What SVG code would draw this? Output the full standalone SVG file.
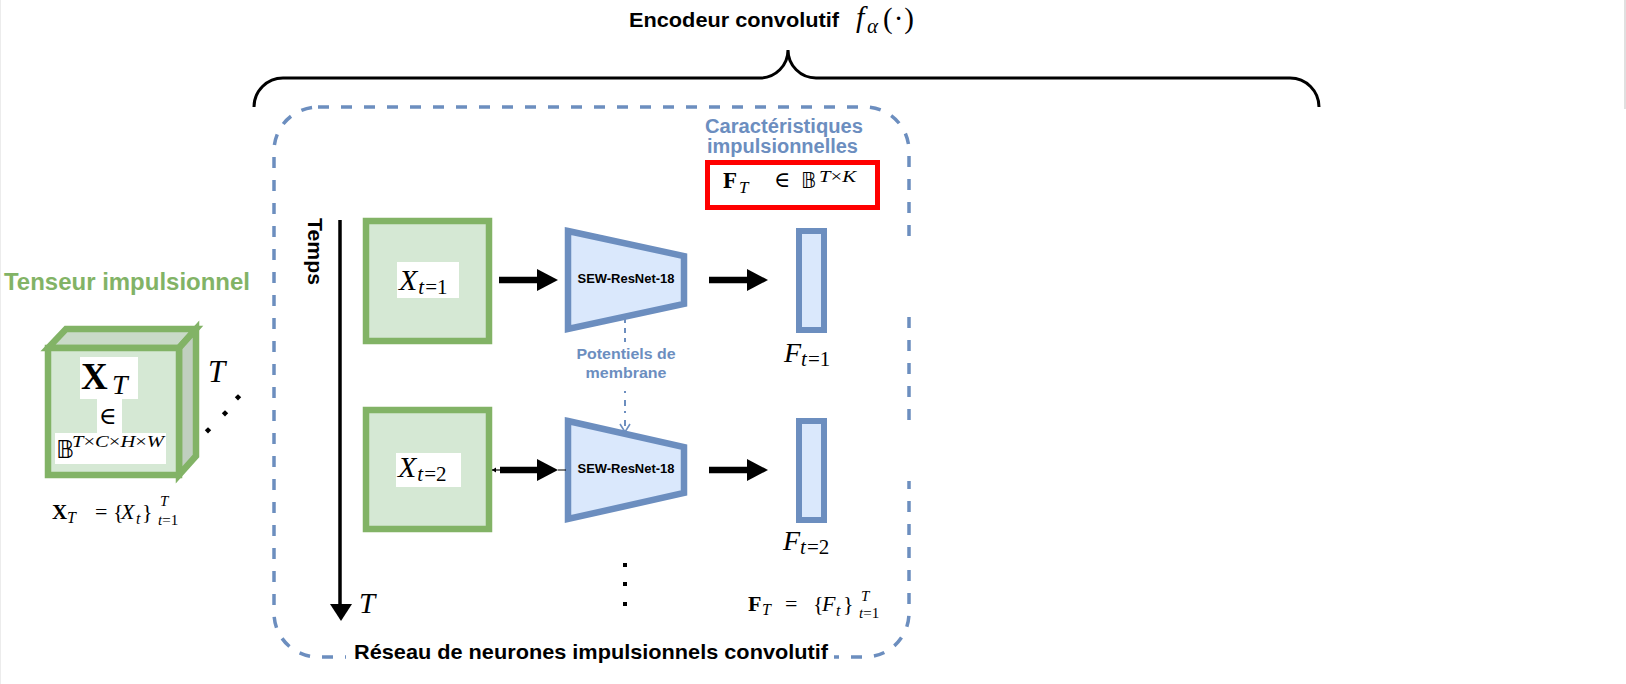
<svg xmlns="http://www.w3.org/2000/svg" width="1626" height="684" viewBox="0 0 1626 684">
<style>
.sans{font-family:"Liberation Sans",Arial,sans-serif;font-weight:bold}
.m{font-family:"Liberation Serif","DejaVu Serif",serif}
.i{font-style:italic}
.b{font-weight:bold}
.bb{font-family:"DejaVu Sans","DejaVu Serif","Noto Sans",sans-serif}
.blue{fill:#6c8ebf}
.green{fill:#82b366}
.gbox{fill:#d5e8d4;stroke:#82b366;stroke-width:6.5}
.trap{fill:#dae8fc;stroke:#6c8ebf;stroke-width:6.5;stroke-linejoin:miter}
.fbox{fill:#dae8fc;stroke:#6c8ebf;stroke-width:6}
.wb{fill:#ffffff}
.shaft{stroke:#000;stroke-width:6.5}
</style>
<rect x="0" y="0" width="1626" height="684" fill="#ffffff"/>
<line x1="0.5" y1="0" x2="0.5" y2="684" stroke="#ececec" stroke-width="1"/>
<line x1="1625" y1="0" x2="1625" y2="109" stroke="#d6d6d6" stroke-width="1.5"/>

<!-- Brace and title -->
<g id="encoder">
<path d="M254,107 A29,29 0 0 1 283,78 L760,78 A28,28 0 0 0 788,50 A28,28 0 0 0 816,78 L1290,78 A29,29 0 0 1 1319,107" fill="none" stroke="#000" stroke-width="3"/>
<text class="sans" x="629" y="27" font-size="21" textLength="210" lengthAdjust="spacingAndGlyphs">Encodeur convolutif</text>
<text class="m i" x="856" y="27" font-size="30">f</text>
<text class="m i" x="867" y="33" font-size="21">α</text>
<text class="m" x="883" y="28" font-size="29"><tspan>(</tspan><tspan dx="1">·</tspan><tspan dx="1">)</tspan></text>
</g>

<!-- SNN container -->
<g id="snn">
<rect x="274" y="107" width="635" height="550" rx="44" ry="44" fill="none" stroke="#6c8ebf" stroke-width="3.5" stroke-dasharray="11 12"/>
<rect x="903" y="237" width="12" height="69" fill="#fff"/>
<rect x="903" y="431" width="12" height="50" fill="#fff"/>
<rect x="346" y="640" width="488" height="30" fill="#fff"/>
<text class="sans" x="354" y="659" font-size="21" textLength="474" lengthAdjust="spacingAndGlyphs">Réseau de neurones impulsionnels convolutif</text>
</g>

<!-- Spiking tensor cube -->
<g id="tensor">
<text class="sans green" x="4" y="290" font-size="24" textLength="246" lengthAdjust="spacingAndGlyphs">Tenseur impulsionnel</text>
<polygon points="48,348 66,329 196,329 179,348" fill="#c9dac8" stroke="#82b366" stroke-width="6.5" stroke-linejoin="miter"/>
<polygon points="179,348 196,329 196,456 179,475" fill="#c0cfbf" stroke="#82b366" stroke-width="6.5" stroke-linejoin="miter"/>
<rect x="48" y="348" width="131" height="127" class="gbox"/>
<rect x="80" y="357" width="58" height="42" class="wb"/>
<rect x="97" y="398" width="25" height="36" class="wb"/>
<rect x="55" y="433" width="111" height="31" class="wb"/>
<text class="m b" x="81" y="389" font-size="37">X</text>
<text class="m i" x="112" y="394" font-size="28">T</text>
<text class="m" x="99" y="424" font-size="24">∈</text>
<text class="bb" x="56" y="458" font-size="25">𝔹</text>
<text class="m" x="72" y="447" font-size="17" textLength="92" lengthAdjust="spacingAndGlyphs"><tspan class="i">T</tspan>×<tspan class="i">C</tspan>×<tspan class="i">H</tspan>×<tspan class="i">W</tspan></text>
<text class="m i" x="208" y="382" font-size="31">T</text>
<rect x="236" y="395" width="4.5" height="4.5" transform="rotate(45 238 397)" fill="#000"/>
<rect x="223" y="411" width="4.5" height="4.5" transform="rotate(45 225 413)" fill="#000"/>
<rect x="206" y="428" width="4.5" height="4.5" transform="rotate(45 208 430)" fill="#000"/>
<text class="m b" x="52" y="519" font-size="21">X</text>
<text class="m i" x="67" y="523" font-size="16">T</text>
<text class="m" x="95" y="519" font-size="22">=</text>
<text class="m" x="113" y="519" font-size="22">{</text>
<text class="m i" x="121" y="519" font-size="22">X</text>
<text class="m i" x="136" y="524" font-size="16">t</text>
<text class="m" x="142" y="519" font-size="22">}</text>
<text class="m i" x="160" y="506" font-size="15">T</text>
<text class="m" x="158" y="525" font-size="15"><tspan class="i">t</tspan>=1</text>
</g>

<!-- Time axis -->
<g id="time">
<text class="sans" transform="translate(308,218) rotate(90)" x="0" y="0" font-size="20" textLength="67" lengthAdjust="spacingAndGlyphs">Temps</text>
<line x1="340" y1="220" x2="340" y2="606" stroke="#000" stroke-width="3.5"/>
<polygon points="330,604 352,604 341,621" fill="#000"/>
<text class="m i" x="359" y="613" font-size="29">T</text>
</g>

<!-- Inputs -->
<g id="x1">
<rect x="366" y="221" width="123" height="120" class="gbox"/>
<rect x="397" y="262" width="62" height="36" class="wb"/>
<text class="m" x="399" y="290" font-size="30"><tspan class="i">X</tspan><tspan font-size="21" dy="4" class="i" dx="1">t</tspan><tspan font-size="21" dx="1">=1</tspan></text>
</g>
<g id="x2">
<rect x="366" y="410" width="123" height="119" class="gbox"/>
<rect x="396" y="453" width="65" height="34" class="wb"/>
<text class="m" x="398" y="477" font-size="30"><tspan class="i">X</tspan><tspan font-size="21" dy="4" class="i" dx="1">t</tspan><tspan font-size="21" dx="1">=2</tspan></text>
</g>

<!-- Encoders -->
<g id="enc1">
<polygon points="568,231 684,256 684,304 568,329" class="trap"/>
<text class="sans" x="626" y="283" font-size="12" text-anchor="middle" textLength="97" lengthAdjust="spacingAndGlyphs">SEW-ResNet-18</text>
</g>
<g id="enc2">
<polygon points="568,421 684,447 684,493 568,519" class="trap"/>
<text class="sans" x="626" y="473" font-size="12" text-anchor="middle" textLength="97" lengthAdjust="spacingAndGlyphs">SEW-ResNet-18</text>
</g>

<!-- Features -->
<g id="f1">
<rect x="799" y="231" width="25" height="99" class="fbox"/>
<text class="m" x="784" y="362" font-size="28"><tspan class="i">F</tspan><tspan font-size="21" dy="4" class="i">t</tspan><tspan font-size="21" dx="1">=1</tspan></text>
</g>
<g id="f2">
<rect x="799" y="421" width="25" height="99" class="fbox"/>
<text class="m" x="783" y="550" font-size="28"><tspan class="i">F</tspan><tspan font-size="21" dy="4" class="i">t</tspan><tspan font-size="21" dx="1">=2</tspan></text>
</g>

<g id="featset">
<text class="sans blue" x="705" y="133" font-size="20" textLength="158" lengthAdjust="spacingAndGlyphs">Caractéristiques</text>
<text class="sans blue" x="707" y="153" font-size="20" textLength="151" lengthAdjust="spacingAndGlyphs">impulsionnelles</text>
<rect x="707.5" y="162.5" width="170" height="45" fill="#fff" stroke="#ff0000" stroke-width="5"/>
<text class="m b" x="723" y="188" font-size="23">F</text>
<text class="m i" x="739" y="193" font-size="17">T</text>
<text class="m" x="774" y="187" font-size="22">∈</text>
<text class="bb" x="801" y="188" font-size="21">𝔹</text>
<text class="m" x="819" y="182" font-size="16" textLength="37" lengthAdjust="spacingAndGlyphs"><tspan class="i">T</tspan>×<tspan class="i">K</tspan></text>
</g>

<g id="featformula">
<text class="m b" x="748" y="611" font-size="22">F</text>
<text class="m i" x="762" y="615" font-size="16">T</text>
<text class="m" x="785" y="611" font-size="22">=</text>
<text class="m" x="813" y="611" font-size="22">{</text>
<text class="m i" x="822" y="611" font-size="22">F</text>
<text class="m i" x="836" y="616" font-size="16">t</text>
<text class="m" x="843" y="611" font-size="22">}</text>
<text class="m i" x="861" y="601" font-size="15">T</text>
<text class="m" x="859" y="618" font-size="15"><tspan class="i">t</tspan>=1</text>
<rect x="623" y="563" width="4" height="4" fill="#000"/>
<rect x="623" y="582" width="4" height="4" fill="#000"/>
<rect x="623" y="602" width="4" height="4" fill="#000"/>
</g>

<!-- Connectors -->
<g id="connectors">
<line x1="499" y1="280" x2="540" y2="280" class="shaft"/>
<polygon points="537,269 558,280 537,291" fill="#000"/>
<line x1="500" y1="470" x2="540" y2="470" class="shaft"/>
<polygon points="537,459 558,470 537,481" fill="#000"/>
<line x1="558" y1="470" x2="566" y2="470" stroke="#000" stroke-width="1"/>
<line x1="492" y1="470" x2="500" y2="470" stroke="#000" stroke-width="1.2"/>
<polygon points="492,470 496,467.5 496,472.5" fill="#000"/>
<line x1="709" y1="280" x2="750" y2="280" class="shaft"/>
<polygon points="747,269 768,280 747,291" fill="#000"/>
<line x1="709" y1="470" x2="750" y2="470" class="shaft"/>
<polygon points="747,459 768,470 747,481" fill="#000"/>
<line x1="625" y1="318" x2="625" y2="342" stroke="#6c8ebf" stroke-width="2" stroke-dasharray="5 5"/>
<line x1="625" y1="391" x2="625" y2="431" stroke="#6c8ebf" stroke-width="2" stroke-dasharray="2 7 6 5"/>
<polyline points="620,424 625,432 630,424" fill="none" stroke="#6c8ebf" stroke-width="1.6"/>
<text class="sans blue" x="626" y="359" font-size="15" text-anchor="middle" textLength="99" lengthAdjust="spacingAndGlyphs">Potentiels de</text>
<text class="sans blue" x="626" y="378" font-size="15" text-anchor="middle" textLength="81" lengthAdjust="spacingAndGlyphs">membrane</text>
</g>
</svg>
